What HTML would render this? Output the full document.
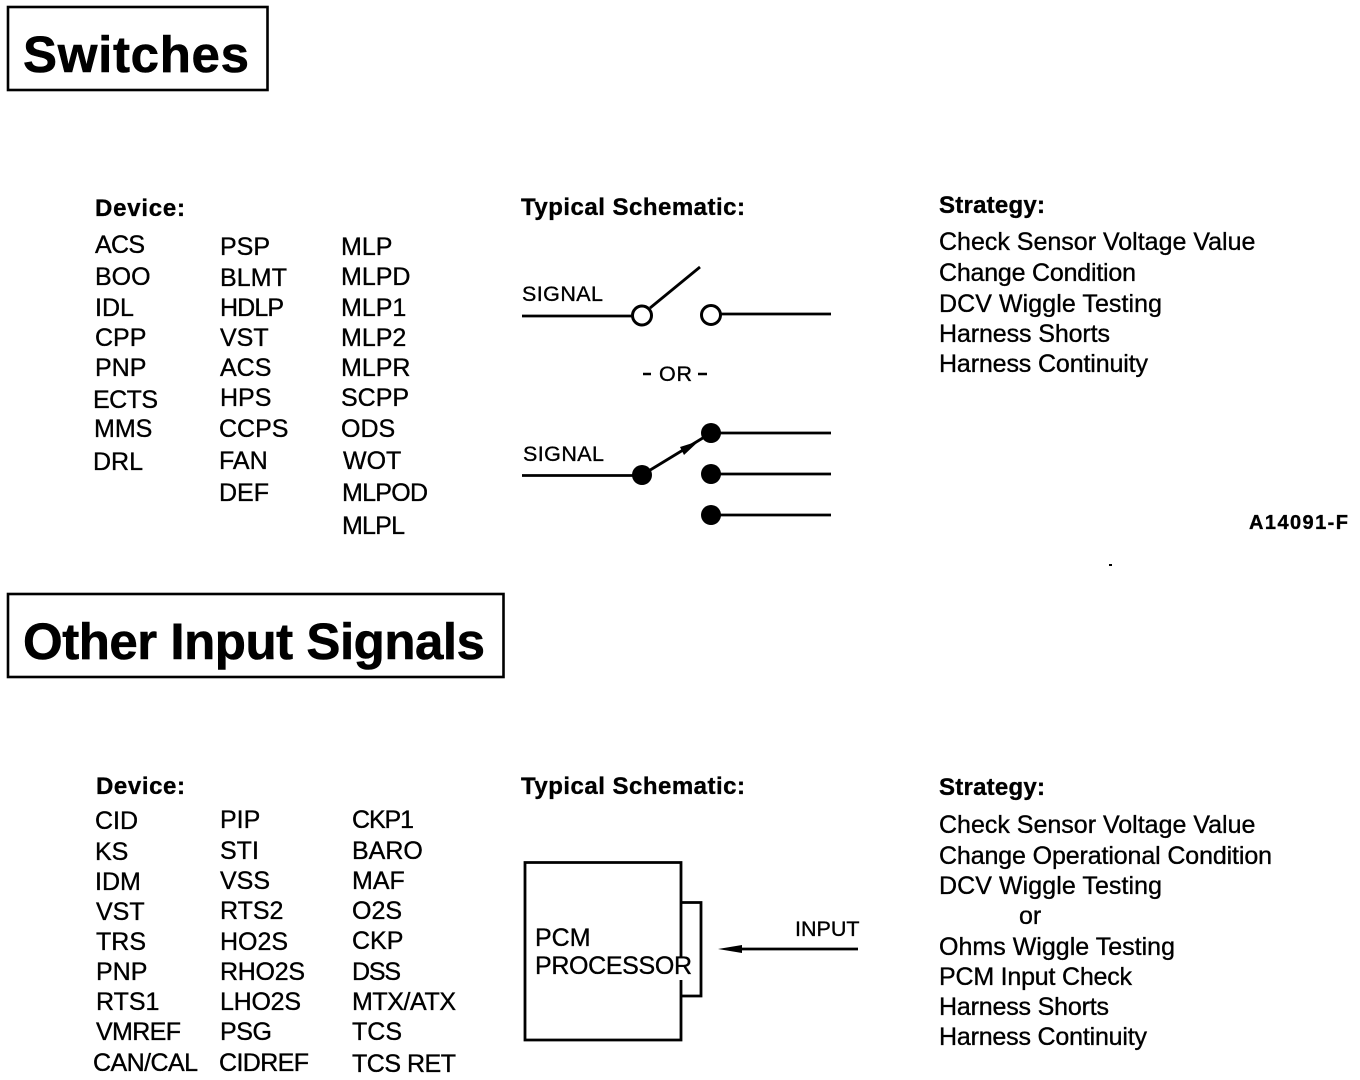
<!DOCTYPE html>
<html><head><meta charset="utf-8"><style>
html,body{margin:0;padding:0;background:#fff}
svg{display:block}
text{font-family:"Liberation Sans",Arial,sans-serif;fill:#000;stroke:#000;stroke-width:.35}
.h{font-size:51px;font-weight:bold;stroke-width:.6}
.b{font-size:24px;font-weight:bold}
.t{font-size:25px}
.s{font-size:21.5px}
</style></head><body>
<svg width="1360" height="1080" viewBox="0 0 1360 1080" xmlns="http://www.w3.org/2000/svg">
<rect x="8" y="7" width="259.5" height="83" fill="none" stroke="#000" stroke-width="2.6"/>
<rect x="8" y="594" width="495.5" height="83" fill="none" stroke="#000" stroke-width="2.6"/>
<text class="h" x="23" y="72" textLength="226">Switches</text>
<text class="h" x="23" y="659" textLength="462">Other Input Signals</text>

<text class="b" x="95" y="216" textLength="90">Device:</text>
<text class="b" x="521" y="215" textLength="224">Typical Schematic:</text>
<text class="b" x="939" y="213" textLength="106">Strategy:</text>

<text class="t" x="95" y="253" textLength="50">ACS</text><text class="t" x="95" y="285">BOO</text><text class="t" x="95" y="316">IDL</text><text class="t" x="95" y="346">CPP</text><text class="t" x="95" y="376">PNP</text><text class="t" x="93" y="408" textLength="65">ECTS</text><text class="t" x="94" y="437">MMS</text><text class="t" x="93" y="470">DRL</text>
<text class="t" x="220" y="255" textLength="50">PSP</text><text class="t" x="220" y="286" textLength="67">BLMT</text><text class="t" x="220" y="316" textLength="64">HDLP</text><text class="t" x="220" y="346">VST</text><text class="t" x="220" y="376">ACS</text><text class="t" x="220" y="406">HPS</text><text class="t" x="219" y="437">CCPS</text><text class="t" x="219" y="469">FAN</text><text class="t" x="219" y="501">DEF</text>
<text class="t" x="341" y="255">MLP</text><text class="t" x="341" y="285">MLPD</text><text class="t" x="341" y="316">MLP1</text><text class="t" x="341" y="346">MLP2</text><text class="t" x="341" y="376">MLPR</text><text class="t" x="341" y="406">SCPP</text><text class="t" x="341" y="437">ODS</text><text class="t" x="343" y="469">WOT</text><text class="t" x="342" y="501" textLength="86">MLPOD</text><text class="t" x="342" y="534" textLength="63">MLPL</text>
<text class="t" x="939" y="250">Check Sensor Voltage Value</text><text class="t" x="939" y="281" textLength="197">Change Condition</text><text class="t" x="939" y="312" textLength="223">DCV Wiggle Testing</text><text class="t" x="939" y="342" textLength="171">Harness Shorts</text><text class="t" x="939" y="372" textLength="209">Harness Continuity</text>

<text class="s" x="522" y="301" textLength="81">SIGNAL</text>
<text class="s" x="523" y="461" textLength="81">SIGNAL</text>
<text class="s" x="659" y="381" textLength="33">OR</text>
<path d="M643 374H651M698 374H707" stroke="#000" stroke-width="2.4" fill="none"/>
<text x="1249" y="529" textLength="99" style="font-size:20px;font-weight:bold">A14091-F</text>
<rect x="1109" y="564" width="3" height="2"/>

<g fill="none" stroke="#000" stroke-width="2.8">
<path d="M522 316H632"/><path d="M650 308L700 267"/>
<circle cx="642" cy="315.5" r="9.5" stroke-width="3"/>
<circle cx="711" cy="315" r="9.5" stroke-width="3"/>
<path d="M721 314H831"/>
<path d="M522 475.5H634"/><path d="M642 475L711 433"/>
<path d="M711 433H831"/><path d="M711 474H831"/><path d="M711 515H831"/>
</g>
<circle cx="642" cy="475" r="10"/>
<circle cx="711" cy="433" r="10"/><circle cx="711" cy="474" r="10"/><circle cx="711" cy="515" r="10"/>
<polygon points="699,441 680,447 684,455"/>

<text class="b" x="96" y="794" textLength="89">Device:</text>
<text class="b" x="521" y="794" textLength="224">Typical Schematic:</text>
<text class="b" x="939" y="795" textLength="106">Strategy:</text>
<text class="t" x="95" y="829" textLength="43">CID</text><text class="t" x="95" y="860">KS</text><text class="t" x="95" y="890">IDM</text><text class="t" x="96" y="920">VST</text><text class="t" x="96" y="950">TRS</text><text class="t" x="96" y="980">PNP</text><text class="t" x="96" y="1010">RTS1</text><text class="t" x="96" y="1040" textLength="85">VMREF</text><text class="t" x="93" y="1071" textLength="105">CAN/CAL</text>
<text class="t" x="220" y="828">PIP</text><text class="t" x="220" y="859">STI</text><text class="t" x="220" y="889">VSS</text><text class="t" x="220" y="919">RTS2</text><text class="t" x="220" y="950">HO2S</text><text class="t" x="220" y="980" textLength="85">RHO2S</text><text class="t" x="220" y="1010" textLength="81">LHO2S</text><text class="t" x="220" y="1040" textLength="52">PSG</text><text class="t" x="219" y="1071" textLength="90">CIDREF</text>
<text class="t" x="352" y="828" textLength="62">CKP1</text><text class="t" x="352" y="859">BARO</text><text class="t" x="352" y="889">MAF</text><text class="t" x="352" y="919">O2S</text><text class="t" x="352" y="949">CKP</text><text class="t" x="352" y="980" textLength="49">DSS</text><text class="t" x="352" y="1010" textLength="104">MTX/ATX</text><text class="t" x="352" y="1040">TCS</text><text class="t" x="352" y="1072" textLength="104">TCS RET</text>
<text class="t" x="939" y="833">Check Sensor Voltage Value</text><text class="t" x="939" y="864" textLength="333">Change Operational Condition</text><text class="t" x="939" y="894" textLength="223">DCV Wiggle Testing</text><text class="t" x="1019" y="924">or</text><text class="t" x="939" y="955" textLength="236">Ohms Wiggle Testing</text><text class="t" x="939" y="985" textLength="193">PCM Input Check</text><text class="t" x="939" y="1015" textLength="170">Harness Shorts</text><text class="t" x="939" y="1045" textLength="208">Harness Continuity</text>

<g fill="none" stroke="#000" stroke-width="2.8">
<path d="M681 957V862.5H525V1040H681V980"/>
<path d="M681 902.5H701V996H681"/>
<path d="M740 949H858"/>
</g>
<polygon points="718,949 742,945 742,953"/>
<text class="t" x="535" y="946">PCM</text>
<text class="t" x="535" y="974" textLength="157">PROCESSOR</text>
<text class="s" x="795" y="936">INPUT</text>
</svg>
</body></html>
